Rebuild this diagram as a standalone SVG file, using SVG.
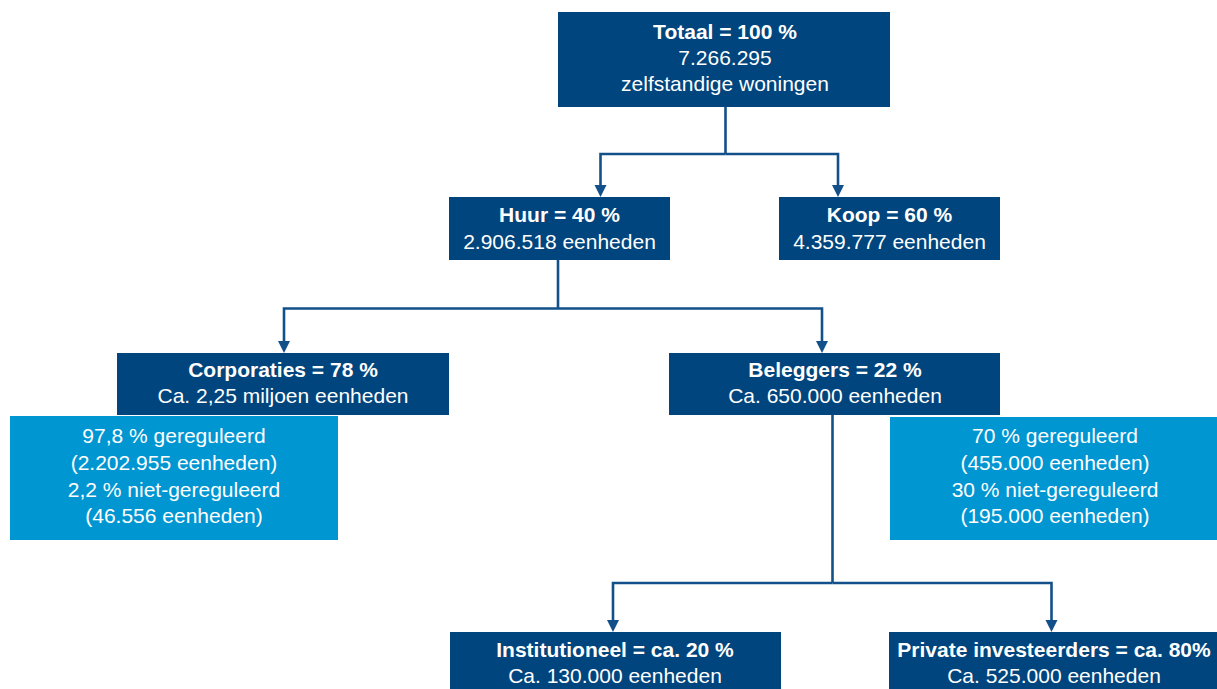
<svg xmlns="http://www.w3.org/2000/svg" width="1217" height="689" viewBox="0 0 1217 689">
<style>
.dk{fill:#00457d}
.lt{fill:#0096d2}
text{font-family:"Liberation Sans",Arial,sans-serif;font-size:21px;fill:#ffffff;text-anchor:middle}
.b{font-weight:bold}
.cn{fill:none;stroke:#13508a;stroke-width:2.6;marker-end:url(#ah)}
.ln{fill:none;stroke:#13508a;stroke-width:2.6}
</style>
<defs>
<marker id="ah" markerUnits="userSpaceOnUse" markerWidth="12" markerHeight="14" refX="1" refY="6" orient="auto" viewBox="0 0 12 12">
<path d="M0,0 L12,6 L0,12 z" fill="#13508a"/>
</marker>
</defs>
<rect width="1217" height="689" fill="#ffffff"/>
<g id="connectors">
<path class="ln" d="M725.5,107 V154"/>
<path class="cn" d="M725.5,154 H600.5 V186"/>
<path class="cn" d="M725.5,154 H838 V186"/>
<path class="ln" d="M558,260 V308.5"/>
<path class="cn" d="M558,308.5 H284 V342"/>
<path class="cn" d="M558,308.5 H822 V342"/>
<path class="ln" d="M832.5,415 V583"/>
<path class="cn" d="M832.5,583 H613 V621"/>
<path class="cn" d="M832.5,583 H1051.5 V621"/>
</g>
<g id="totaal">
<rect class="dk" x="558" y="12" width="332" height="95"/>
<text class="b" x="725" y="39">Totaal = 100 %</text>
<text x="725" y="65">7.266.295</text>
<text x="725" y="91">zelfstandige woningen</text>
</g>
<g id="huur">
<rect class="dk" x="449" y="197" width="221" height="63"/>
<text class="b" x="559.5" y="222">Huur = 40 %</text>
<text x="559.5" y="249">2.906.518 eenheden</text>
</g>
<g id="koop">
<rect class="dk" x="779" y="197" width="221" height="63"/>
<text class="b" x="889.5" y="222">Koop = 60 %</text>
<text x="889.5" y="249">4.359.777 eenheden</text>
</g>
<g id="corporaties">
<rect class="dk" x="117" y="353" width="332" height="62"/>
<text class="b" x="283" y="377">Corporaties = 78 %</text>
<text x="283" y="403">Ca. 2,25 miljoen eenheden</text>
</g>
<g id="corporaties-detail">
<rect class="lt" x="10" y="416" width="328" height="124"/>
<text x="174" y="443">97,8 % gereguleerd</text>
<text x="174" y="470">(2.202.955 eenheden)</text>
<text x="174" y="496.5">2,2 % niet-gereguleerd</text>
<text x="174" y="523">(46.556 eenheden)</text>
</g>
<g id="beleggers">
<rect class="dk" x="669" y="353" width="331" height="62"/>
<text class="b" x="835" y="377">Beleggers = 22 %</text>
<text x="835" y="403">Ca. 650.000 eenheden</text>
</g>
<g id="beleggers-detail">
<rect class="lt" x="890" y="417" width="327" height="123"/>
<text x="1055" y="443">70 % gereguleerd</text>
<text x="1055" y="470">(455.000 eenheden)</text>
<text x="1055" y="496.5">30 % niet-gereguleerd</text>
<text x="1055" y="523">(195.000 eenheden)</text>
</g>
<g id="institutioneel">
<rect class="dk" x="450" y="632" width="331" height="57"/>
<text class="b" x="615" y="657">Institutioneel = ca. 20 %</text>
<text x="615" y="683">Ca. 130.000 eenheden</text>
</g>
<g id="private">
<rect class="dk" x="889" y="632" width="328" height="57"/>
<text class="b" x="1054" y="657">Private investeerders = ca. 80%</text>
<text x="1054" y="683">Ca. 525.000 eenheden</text>
</g>
</svg>
